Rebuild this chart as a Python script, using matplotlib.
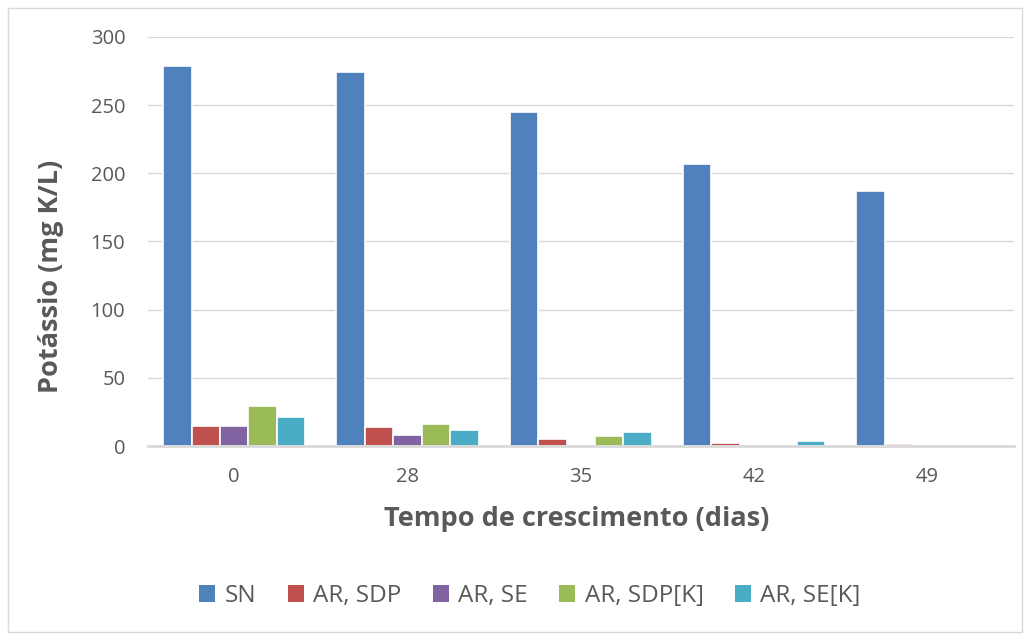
import matplotlib
matplotlib.use("Agg")
import matplotlib.pyplot as plt
from matplotlib.patches import Rectangle, Patch
import numpy as np

categories = ["0", "28", "35", "42", "49"]
series_names = ["SN", "AR, SDP", "AR, SE", "AR, SDP[K]", "AR, SE[K]"]
sn = [279, 274, 245, 207, 187]
ar_sdp = [15, 14, 5, 2, 1.5]
ar_se = [15, 8, 0.3, 0, 0]
ar_sdp_k = [29, 16, 7.5, 0, 0]
ar_se_k = [21, 12, 10, 3.5, 0]
y_ticks = [0, 50, 100, 150, 200, 250, 300]

colors = ["#4F81BD", "#C0504D", "#8064A2", "#9BBB59", "#4BACC6"]
data = [sn, ar_sdp, ar_se, ar_sdp_k, ar_se_k]

plt.rcParams['font.family'] = ['Open Sans', 'DejaVu Sans']
fig = plt.figure(figsize=(10.30, 6.39), dpi=100)
fig.patches.append(Rectangle((8/1030, 7/639), 1014/1030, 624/639, transform=fig.transFigure,
                             fill=False, edgecolor="#D9D9D9", linewidth=1.0))

ax = fig.add_axes([147.5/1030, (639-446)/639, (1014-147.5)/1030, 409/639])
x = np.arange(len(categories))
slot = 0.164
for i, (vals, c) in enumerate(zip(data, colors)):
    offs = (i - 2) * slot
    ax.bar(x + offs, vals, width=slot, color=c, edgecolor="white", linewidth=1.2, zorder=3)

ax.set_xlim(-0.5, len(categories) - 0.5)
ax.set_ylim(0, 300)
ax.set_yticks(y_ticks)
ax.set_xticks(x)
ax.set_xticklabels(categories)
ax.yaxis.grid(True, color="#D9D9D9", linewidth=1.0, zorder=0)
ax.set_axisbelow(True)
for s in ["top", "right", "left"]:
    ax.spines[s].set_visible(False)
ax.spines["bottom"].set_color("#D9D9D9")
ax.spines["bottom"].set_linewidth(2)
ax.spines["bottom"].set_zorder(4)
ax.tick_params(axis="both", length=0, labelsize=14.5, labelcolor="#595959")
ax.tick_params(axis="x", pad=15)
ax.tick_params(axis="y", pad=16)

ax.set_xlabel("Tempo de crescimento (dias)", fontsize=19.5, fontweight="bold", color="#595959")
ax.set_ylabel("Potássio (mg K/L)", fontsize=19.5, fontweight="bold", color="#595959")
ax.xaxis.set_label_coords((577 - 147.5) / 866.5, (446 - 506) / 409)
ax.yaxis.set_label_coords((64 - 147.5) / 866.5, (446 - 276) / 409)

handles = [Patch(facecolor=c, edgecolor="none") for c in colors]
fig.legend(handles, series_names, loc="center", bbox_to_anchor=(0.5146, 1 - 596/639), ncol=5,
           frameon=False, fontsize=17.5, labelcolor="#595959", handlelength=0.66, handleheight=0.66,
           handletextpad=0.38, columnspacing=1.3)

fig.savefig("out.png", dpi=100)
